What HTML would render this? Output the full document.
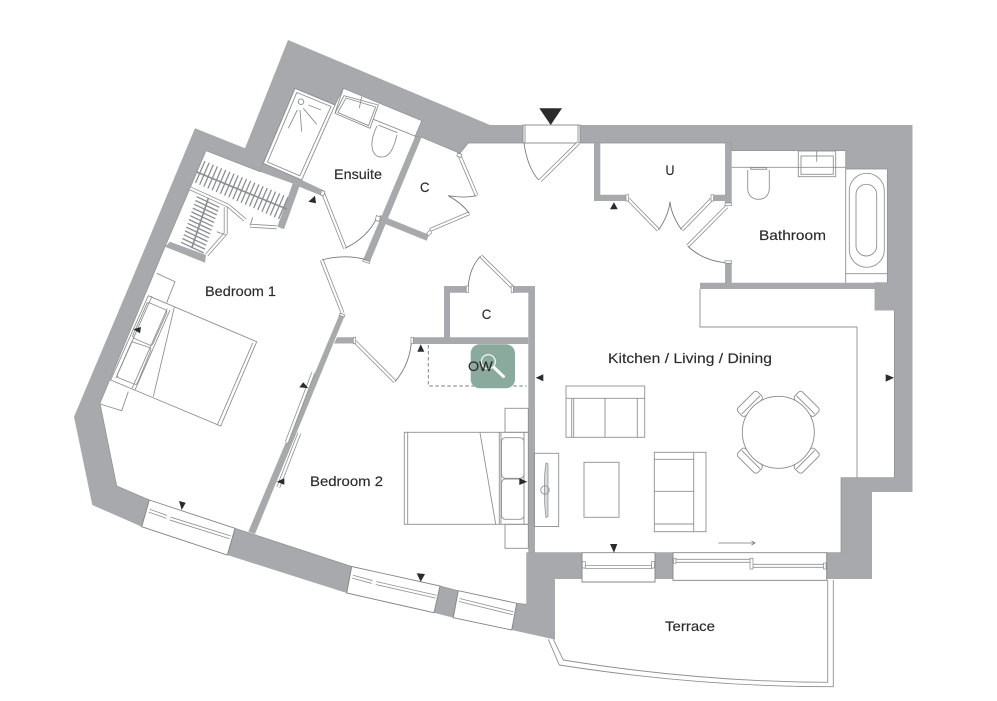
<!DOCTYPE html>
<html lang="en">
<head>
<meta charset="utf-8">
<title>Floor plan</title>
<style>
html,body{margin:0;padding:0;background:#fff;width:997px;height:701px;overflow:hidden}
svg{display:block}
text{font-family:"Liberation Sans",sans-serif;font-size:14px;fill:#2b2b2d;text-anchor:start;stroke:#2b2b2d;stroke-width:.15}
.t{fill:none;stroke:#8f9092;stroke-width:.9}
.d{fill:none;stroke:#77787a;stroke-width:.9}
.w{fill:#fff;stroke:#85868a;stroke-width:.9}
.g{fill:#a7a9ac}
.k{fill:#2b2b2d}
</style>
</head>
<body>
<svg width="997" height="701" viewBox="0 0 997 701" xmlns="http://www.w3.org/2000/svg">
<defs>
<g id="leaves" fill="none" stroke-linecap="butt">
<path d="M578.3 143L540 180.7"/>
<path d="M628.3 199.3L658.3 230"/>
<path d="M711.7 199.3L681.7 230"/>
<path d="M726.7 206.7L687.7 246"/>
<path d="M323 193L345 248.3"/>
<path d="M460 156.7L476.7 195.7"/>
<path d="M430 230L469.3 213.3"/>
<path d="M321.7 260L342.7 313.3"/>
<path d="M355 341.7L395 381.7"/>
<path d="M513.3 288L480.7 256"/>
<path d="M313.3 372.7L286.7 442.3"/>
<path d="M299.3 433.3L278.3 487.3"/>
<path d="M149.3 510.7L166.5 516.8M170 518.5L230 537.3"/>
<path d="M352.7 576.7L372 582M376 583L436 596.7"/>
<path d="M459.3 600L513.3 613.3"/>
<path d="M585 567H652.7"/>
<path d="M674 560.8H752.7"/>
<path d="M750 565.8H825"/>
<path d="M228.3 205.7L245 220M250 225.7L276.7 227.3"/>
<path d="M225.7 207.3V233.3L206.7 255"/>
<path d="M190 188.3L228.3 205.7"/>
</g>
</defs>

<!-- outer wall mass -->
<polygon class="g" points="288,40 490,125 912.5,125 912.5,492 872,492 872,579 555,579 555,639.5 511.7,630 453.3,617.7 434,612.7 346.7,593 227.3,555 141.7,526.7 92.3,505 74,416.7 131.7,280 195,128.3 245,148.3"/>

<!-- interior floor -->
<polygon points="295,88.3 335,105 343.3,88.3 421.7,120.7 415,136.7 421.7,137.3 460,153.3 468.3,143 523,143 523,125 580,125 580,143 731.7,143 731.7,150.7 845.7,150.7 845.7,169 887.3,169 887.3,282.7 875,282.7 875,310 894.3,310 894.3,477.7 841,477.7 841,552.7 826.7,552.7 826.7,580.3 673,580.3 673,552.7 655,552.7 655,582 582,582 582,552.7 526.7,552.7 526.7,604.3 516.7,603.3 511.7,630 453.3,617.7 458.3,590.7 440,586 434,612.7 346.7,593 351.7,566.5 235,528.3 227.3,555 141.7,526.7 149.3,500 116.7,486 100,403.3 165,246.7 206,150.7 260,171.7 263.3,163.3" fill="#fff" stroke="#8d8e90" stroke-width=".7"/>

<!-- interior walls -->
<g class="g">
<polygon points="263.3,163.3 301.7,180 325,191 322.3,196 299.3,186.7 284,229.3 277.3,226.7 292.7,183.5 260,171.7"/>
<polygon points="415,136.7 421.7,137 370,261.7 363.3,259.3"/>
<polygon points="380,215 429,234.7 426.7,240.7 378,221"/>
<polygon points="170,241.7 206,255 205,262.7 165,246.7"/>
<polygon points="340,313.3 345,315 255,534 248.3,531.7"/>
<polygon points="337,337.3 353.3,337.3 353.3,343.5 334,343.5"/>
<polygon points="413.3,337.3 528.3,337.3 528.3,344 413.3,344"/>
<polygon points="444,286 468.3,286 468.3,292.7 450,292.7 450,337.5 444,337.5"/>
<polygon points="513.3,286 535,286 535,552.7 528.3,552.7 528.3,292.7 513.3,292.7"/>
<polygon points="594,143 600.3,143 600.3,194.7 626,194.7 626,201 594,201"/>
<polygon points="725,143 731.7,143 731.7,203 725,203 725,201 711.7,201 711.7,194.7 725,194.7"/>
<polygon points="725,263 731.7,263 731.7,283 725,283"/>
<polygon points="700,282.7 887.3,282.7 887.3,289 700,289"/>
<polygon points="875,289 894.3,289 894.3,310 875,310"/>
<polygon points="526.7,552.7 582,552.7 582,579 555,579 555,639.5 526.7,633"/>
<polygon points="655,552.7 673,552.7 673,579 655,579"/>
</g>

<!-- kitchen counter -->
<path class="t" d="M700 289V327H857V478"/>

<!-- windows -->
<polygon class="w" points="582,552.7 655,552.7 655,582 582,582"/>
<polygon class="w" points="673,552.7 826.7,552.7 826.7,580.3 673,580.3"/>
<polygon class="w" points="149.3,500 235,528.3 227.3,555 141.7,526.7"/>
<polygon class="w" points="351.7,566.5 440,586 434,612.7 346.7,593"/>
<polygon class="w" points="458.3,590.7 516.7,603.3 511.7,630 453.3,617.7"/>
<polygon points="523,125 580,125 580,143 523,143" fill="#fff"/>
<path class="t" d="M523 125H580M523 143H580M523 125V143M525 125V143M578 125V143M580 125V143"/>

<!-- door leaves -->
<use href="#leaves" stroke="#8f9093" stroke-width="3.8"/>
<use href="#leaves" stroke="#fff" stroke-width="2.2"/>

<!-- door arcs -->
<g class="d">
<path d="M524 143C526 158 530 170 538.5 180"/>
<path d="M658.5 230C664 222 669 212 670 201.7C671 212 676 222 681.7 230"/>
<path d="M687.7 246C698 256 712 262 726.7 262.7"/>
<path d="M345 248.3C358 242 370 232 376.7 218.3"/>
<path d="M476.7 195.7C466 198 456 197 448.3 195.7C456 200 464 206 469.3 213.3"/>
<path d="M321.7 260C336 256 352 256 366 259.5"/>
<path d="M395 381.7C405 370 411 355 411.7 338"/>
<path d="M480.7 256C473 264 469 275 468.3 286.7"/>
</g>

<!-- hinge tabs -->
<g fill="#fff" stroke="#8a8b8d" stroke-width=".7">
<rect x="626" y="194.7" width="2.6" height="6.3"/>
<rect x="711" y="194.7" width="2.6" height="6.3"/>
<rect x="725" y="203" width="6.7" height="2.4"/>
<rect x="725" y="260.8" width="6.7" height="2.4"/>
<rect x="353.3" y="337.3" width="2.4" height="6.3"/>
<rect x="411" y="337.3" width="2.4" height="6.3"/>
<rect x="466.2" y="286" width="2.2" height="6.7"/>
<rect x="511.2" y="286" width="2.2" height="6.7"/>
<polygon points="321.5,190.5 325,191.5 323.5,196 320.5,195"/>
<polygon points="457.6,153 462,154.5 460.8,157.5 456.8,156"/>
<polygon points="426.6,233.5 430,229.5 431.5,233 428.5,236"/>
<polygon points="376.4,215.5 380.5,217.2 379,221.5 375.2,220"/>
<polygon points="363.3,259.3 370,261.7 369.2,263.6 362.6,261"/>
<polygon points="340,313.3 345,315 344.2,317 339,315.2"/>
</g>
<g fill="#fff" stroke="#85868a" stroke-width=".7">
<rect x="582.3" y="561.7" width="3" height="6.3"/>
<rect x="651.5" y="561.7" width="3" height="6.3"/>
<rect x="673.5" y="558.3" width="2.5" height="5"/>
<rect x="750" y="558.3" width="3" height="10.7"/>
<rect x="823.5" y="563" width="2.6" height="6"/>
</g>

<!-- ensuite -->
<polygon class="t" points="295,88.3 335,105 301.7,180 263.3,163.3"/>
<polygon class="t" points="296.8,92.5 331,106.5 299.8,175.8 267.5,162"/>
<circle class="t" cx="301" cy="101.7" r="2.8"/>
<path class="t" d="M308.3 105L321 110M303.3 108.3L316.7 124.3M300 110L301.7 131.7M297.3 110L288.3 128.3"/>
<polygon class="t" points="344,95.7 378.3,105 370,128.3 335,113.3"/>
<polygon class="t" points="346,98 375.6,107 368.5,125.6 337.8,112.5"/>
<path class="t" d="M361.7 96.7L359.3 108M343.3 88.3L335 113M373.3 119.3L416.7 136.7"/>
<path class="t" d="M378.3 125L397.3 132.7M377 126C368 144 372 157 381 157C389 158 394 148 397 135"/>

<!-- walk-in wardrobe -->
<path fill="none" stroke="#8c8d90" stroke-width="1.3" d="M205 161l-9.5 22m13.65-20.2l-9.5 22m13.65-20.2l-9.5 22m13.65-20.2l-9.5 22m13.65-20.2l-9.5 22m13.65-20.2l-9.5 22m13.65-20.2l-9.5 22m13.65-20.2l-9.5 22m13.65-20.2l-9.5 22m13.65-20.2l-9.5 22m13.65-20.2l-9.5 22m13.65-20.2l-9.5 22m13.65-20.2l-9.5 22m13.65-20.2l-9.5 22m13.65-20.2l-9.5 22m13.65-20.2l-9.5 22m13.65-20.2l-9.5 22m13.65-20.2l-9.5 22m13.65-20.2l-9.5 22m13.65-20.2l-9.5 22m13.65-20.2l-9.5 22"/>
<path fill="none" stroke="#8c8d90" stroke-width="1.6" d="M196.7 172L286.7 209"/>
<path fill="none" stroke="#8c8d90" stroke-width="1.3" d="M196.7 196.7l22.6 10.6m-23.9-6.8l22.6 10.6m-23.9-6.8l22.6 10.6m-23.9-6.8l22.6 10.6m-23.9-6.8l22.6 10.6m-23.9-6.8l22.6 10.6m-23.9-6.8l22.6 10.6m-23.9-6.8l22.6 10.6m-23.9-6.8l22.6 10.6m-23.9-6.8l22.6 10.6m-23.9-6.8l22.6 10.6m-23.9-6.8l22.6 10.6m-23.9-6.8l22.6 10.6"/>
<path fill="none" stroke="#8c8d90" stroke-width="1.6" d="M208.3 198.3L191.7 248.3"/>
<path class="t" d="M252.7 217.3L250 225.7M216.7 231.7L225.7 235"/>

<!-- bathroom -->
<path class="t" d="M731.7 167.3H845.7M845.7 169V282.7M845.7 273.7H887.3"/>
<rect class="t" x="798.3" y="151" width="37.4" height="25.7" fill="#fff"/>
<rect class="t" x="801" y="156" width="32.3" height="18.3"/>
<path class="t" d="M816.7 151V161.7"/>
<rect class="t" x="849.3" y="173.3" width="35" height="94" rx="17.5"/>
<rect class="t" x="856" y="184.3" width="20.7" height="71.7" rx="10.3"/>
<path class="t" d="M750.7 167.7H766.7V169.3H750.7ZM747.7 170V188C747.7 195 752 199.3 758.5 199.3C765 199.3 769.3 195 769.3 188V170"/>

<!-- bed 1 -->
<polygon class="t" points="148.3,295.7 256.7,341.7 220.7,426 110.7,380"/>
<path class="t" d="M252.7 343L217.3 425M174.3 307.3L153.3 396.7M170 310L135 390M167.3 308.5L132 388.5"/>
<path class="t" d="M152 296L116 378"/>
<path class="t" d="M147.3 302.7Q149 302.5 151 303.5L165 309.5Q167.5 311 166.7 313L153 343.5Q151.7 346 149.5 345L134.5 338.5Q132 337 133 335Z"/>
<path class="t" d="M131.7 341.7L148 347Q151.7 348.3 150.7 350.5L137.5 383Q136.5 385 134 384L119 378Q116.5 376.7 117.5 374Z"/>
<path class="t" d="M156.7 273.3L175 281.7L166.7 302.7M128.3 391.7L121.7 410.7L100 404"/>

<!-- bed 2 -->
<rect class="t" x="404.3" y="432.3" width="124" height="92"/>
<path class="t" d="M407.7 432.3V524.3M480 432.7L495.7 524.3M499.3 432.3V524.3M501 432.3V524.3M524 432.3V524.3"/>
<rect class="t" x="501.5" y="437.7" width="22.5" height="40.6" rx="4"/>
<rect class="t" x="501.5" y="479" width="22.5" height="40.3" rx="4"/>
<rect class="t" x="505" y="408.3" width="23.3" height="24"/>
<rect class="t" x="505" y="524.3" width="23.3" height="24"/>

<!-- OW -->
<path fill="none" stroke="#77787a" stroke-width=".9" stroke-dasharray="3.5 2.5" d="M428.3 345V386H526.7"/>

<!-- TV unit -->
<rect class="t" x="534.3" y="453.3" width="24.4" height="73.2"/>
<path fill="#d9dadb" stroke="#8a8b8d" stroke-width=".7" d="M546 463L548 464V516.5L546 517.5C544 505 543.7 475 546 463Z"/>
<circle class="t" cx="545" cy="490" r="4.2"/>

<!-- sofas and table -->
<rect class="t" x="566" y="386" width="78.7" height="51.3"/>
<path class="t" d="M566 398.3H644.7M571.7 398.3V437.3M573.7 398.3V437.3M605 398.3V437.3M637.3 398.3V437.3"/>
<rect class="t" x="584" y="462.3" width="35" height="55" stroke-width="1.2"/>
<rect class="t" x="654.3" y="452.3" width="51.7" height="79.4"/>
<path class="t" d="M693.7 452.3V531.7M654.3 459.3H693.7M654.3 491.3H693.7M654.3 524H693.7"/>

<!-- dining -->
<g fill="#fff" stroke="#8a8b8d" stroke-width=".9">
<g transform="translate(749.5 403.5) rotate(-45)"><rect x="-14" y="-5" width="28" height="11" rx="3"/><path d="M-13 2H13" fill="none"/></g>
<g transform="translate(807 403.5) rotate(45)"><rect x="-14" y="-5" width="28" height="11" rx="3"/><path d="M-13 2H13" fill="none"/></g>
<g transform="translate(749.5 461) rotate(-135)"><rect x="-14" y="-5" width="28" height="11" rx="3"/><path d="M-13 2H13" fill="none"/></g>
<g transform="translate(807 461) rotate(135)"><rect x="-14" y="-5" width="28" height="11" rx="3"/><path d="M-13 2H13" fill="none"/></g>
</g>
<circle cx="778.3" cy="432.3" r="36" fill="#fff" stroke="#8a8b8d" stroke-width=".9"/>

<!-- terrace railing -->
<path class="t" d="M548.3 639.3L559.3 665Q700 687 833.3 686.7V580"/>
<path class="t" d="M553.3 639.3L563.3 660Q700 682 827.7 682.3V580"/>

<!-- slide arrow -->
<path fill="none" stroke="#77787a" stroke-width=".8" d="M718.3 543H755M751.5 541L755 543L751.5 545"/>

<!-- triangles -->
<g class="k">
<polygon points="539.3,108.3 562,108.3 550.7,125"/>
<polygon points="610,209.3 617.7,209.3 614,202.3"/>
<polygon points="308.3,201.7 316,203.3 315,195.7"/>
<polygon points="417.3,351.7 424.3,351.7 420.7,344.3"/>
<polygon points="535.7,377.7 543.3,374.3 543.3,381.3"/>
<polygon points="519.3,478.3 519.3,485 527.3,481.7"/>
<polygon points="299.3,387.3 308.3,388.3 303.3,382.3"/>
<polygon points="276.7,481.7 284.3,478.3 284.3,484.7"/>
<polygon points="133.3,329.3 141,327 140,333.3"/>
<polygon points="179,501 185.7,502.7 181.7,510"/>
<polygon points="416.7,573.3 425,574 420.7,581.7"/>
<polygon points="885.7,374.3 885.7,381.7 894,377.7"/>
<polygon points="610,544 617.3,544 614,552.7"/>
</g>

<!-- OW badge -->
<rect x="470.7" y="344.3" width="44.3" height="44" rx="9" fill="#8aaa9e"/>
<circle cx="488.3" cy="361.7" r="7" fill="none" stroke="#fff" stroke-width="1.2"/>
<path d="M494 367.5L503.5 376.5" stroke="#fff" stroke-width="3" stroke-linecap="round"/>

<!-- labels -->
<text x="334" y="179" textLength="48" lengthAdjust="spacingAndGlyphs">Ensuite</text>
<text x="420" y="192" textLength="9.5" lengthAdjust="spacingAndGlyphs">C</text>
<text x="665.5" y="175" textLength="9" lengthAdjust="spacingAndGlyphs">U</text>
<text x="759" y="240" textLength="67" lengthAdjust="spacingAndGlyphs">Bathroom</text>
<text x="205" y="296" textLength="71" lengthAdjust="spacingAndGlyphs">Bedroom 1</text>
<text x="481.7" y="319" textLength="9.5" lengthAdjust="spacingAndGlyphs">C</text>
<text x="468" y="371" textLength="24.7" lengthAdjust="spacingAndGlyphs">OW</text>
<text x="608" y="363" textLength="164" lengthAdjust="spacingAndGlyphs">Kitchen / Living / Dining</text>
<text x="310" y="486" textLength="73" lengthAdjust="spacingAndGlyphs">Bedroom 2</text>
<text x="665" y="631" textLength="50" lengthAdjust="spacingAndGlyphs">Terrace</text>
</svg>
</body>
</html>
